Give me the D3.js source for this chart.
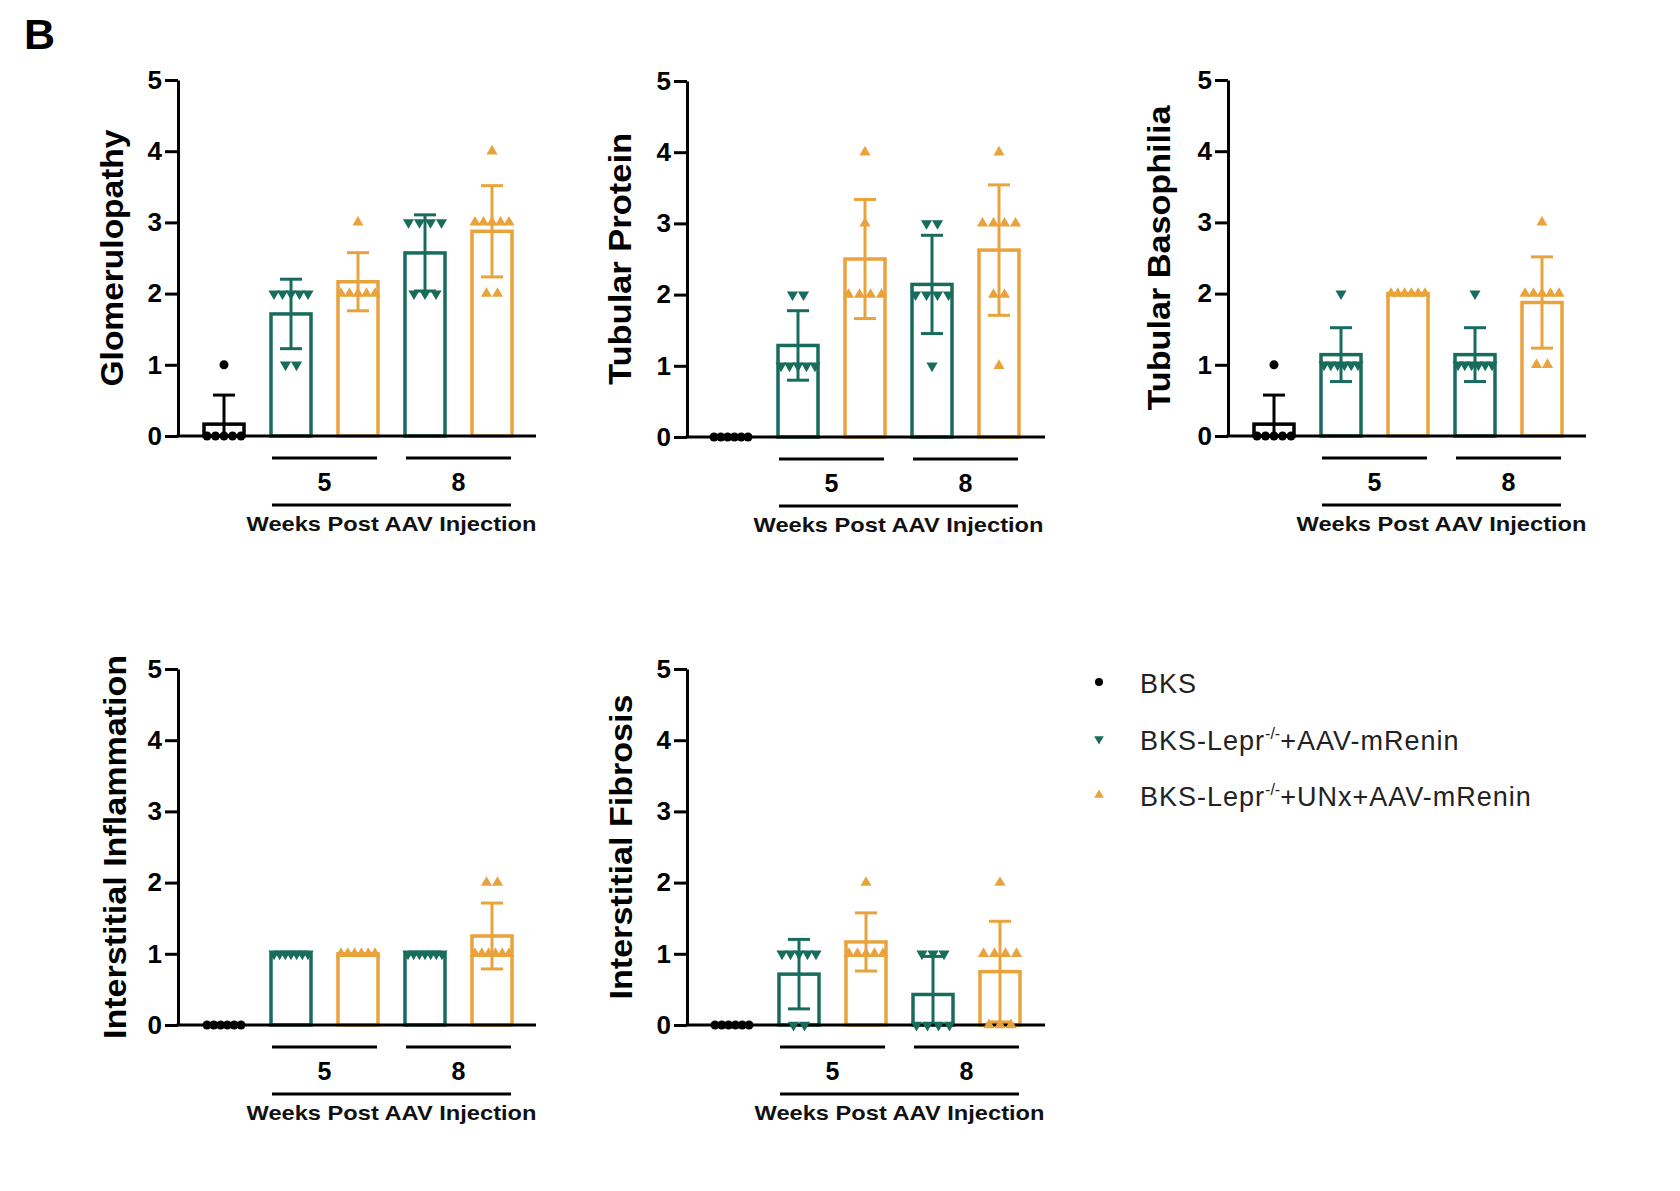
<!DOCTYPE html>
<html lang="en">
<head>
<meta charset="UTF-8"/>
<title>histology scores</title>
<script src="https://d3js.org/d3.v7.min.js"></script>
<style>
  body { margin: 0; background: #fff; }
  text { font-family: "Liberation Sans", Arial, sans-serif; }
  .axis path, .axis line { stroke: #000; stroke-width: 3px; }
  .axis text { font-size: 26px; font-weight: bold; fill: #000; }
</style>
</head>
<body>
<div id="chart"></div>
<script>

// groups on the x axis (BKS, then 5 wk and 8 wk pairs)
var groups = ["BKS", "Lepr_5", "UNx_5", "Lepr_8", "UNx_8"]
var weekLabels = ["5", "8"]
var yTicks = [0, 1, 2, 3, 4, 5]
var panelTitles = ["Glomerulopathy", "Tubular Protein", "Tubular Basophilia", "Interstitial Inflammation", "Interstitial Fibrosis"]

// individual animal scores
var glomerulopathy = [[0,0,0,0,0,1], [2,2,2,2,2,1,1], [2,2,2,2,2,3], [3,3,3,3,2,2,2], [3,3,3,3,3,2,2,4]]
var tubularProtein = [[0,0,0,0,0,0], [2,2,1,1,1,1,1], [4,3,2,2,2,2], [3,3,2,2,2,2,1], [4,3,3,3,3,2,2,1]]
var tubularBasophilia = [[0,0,0,0,0,1], [2,1,1,1,1,1,1], [2,2,2,2,2,2], [2,1,1,1,1,1,1], [3,2,2,2,2,2,1,1]]
var interstitialInflammation = [[0,0,0,0,0,0], [1,1,1,1,1,1,1], [1,1,1,1,1,1], [1,1,1,1,1,1,1], [2,2,1,1,1,1,1,1]]
var interstitialFibrosis = [[0,0,0,0,0,0], [1,1,1,1,1,0,0], [2,1,1,1,1,1], [1,1,1,0,0,0,0], [2,1,1,1,1,0,0,0]]
var panelData = [glomerulopathy, tubularProtein, tubularBasophilia, interstitialInflammation, interstitialFibrosis]

var legendLabels = [["BKS", "", ""], ["BKS-Lepr", "-/-", "+AAV-mRenin"], ["BKS-Lepr", "-/-", "+UNx+AAV-mRenin"]]

// where each panel sits on the page
var layout = [
  {x: 178, top: 80, first: 46, titleX: 123, titleLen: 257},
  {x: 687, top: 81, first: 44, titleX: 631, titleLen: 252},
  {x: 1228, top: 80, first: 46, titleX: 1170, titleLen: 305},
  {x: 178, top: 669, first: 46, titleX: 126, titleLen: 384},
  {x: 687, top: 669, first: 45, titleX: 632, titleLen: 305}
]

var width = 1680
    height = 1191
    plotH = 356
    step = 67

var teal = "#186c5c"
    orange = "#e9a33c"

var svg = d3.select("#chart")
  .append("svg")
    .attr("width", width)
    .attr("height", height)

var color = d3.scaleOrdinal().domain(groups).range(["#000", teal, orange, teal, orange])
// 0 = circle, 1 = triangle down, 2 = triangle up
var shapeKind = d3.scaleOrdinal().domain(groups).range([0, 1, 2, 1, 2])

function marker(sel, kind, fill, size) {
  sel.attr("d", d3.symbol().type(kind == 0 ? d3.symbolCircle : d3.symbolTriangle).size(size))
    .attr("fill", fill)
}

svg.append("text").attr("x", 24).attr("y", 49).text("B")
  .style("font-size", "43px").style("font-weight", "bold")

layout.forEach(function(p, k) {
  var scores = panelData[k]
  var g = svg.append("g").attr("transform", "translate(" + p.x + ",0)")

  var y = d3.scaleLinear().domain([0, 5]).range([p.top + plotH, p.top])
  var x = d3.scalePoint().domain(groups).range([p.first, p.first + 4 * step])
  var y0 = y(0)

  var stats = scores.map(function(v, i) {
    return {key: groups[i], values: v, mean: d3.mean(v), sd: d3.deviation(v)}
  })

  // bars (open)
  g.selectAll("rect.bar")
    .data(stats.filter(function(d) { return d.mean > 0 }))
    .enter()
    .append("rect")
      .attr("x", function(d) { return x(d.key) - 20 })
      .attr("width", 40)
      .attr("y", function(d) { return y(d.mean) })
      .attr("height", function(d) { return y0 - y(d.mean) })
      .attr("fill", "none")
      .attr("stroke", function(d) { return color(d.key) })
      .attr("stroke-width", 3.5)

  // mean +/- SD
  stats.forEach(function(d) {
    if (!(d.sd > 0)) return
    var hi = d.mean + d.sd
    var lo = d.mean - d.sd
    var cx = x(d.key)
    g.append("line").attr("x1", cx).attr("x2", cx)
      .attr("y1", y(Math.max(lo, 0))).attr("y2", y(hi))
      .attr("stroke", color(d.key)).attr("stroke-width", 3)
    g.append("line").attr("x1", cx - 11).attr("x2", cx + 11)
      .attr("y1", y(hi)).attr("y2", y(hi))
      .attr("stroke", color(d.key)).attr("stroke-width", 3)
    if (lo >= 0) {
      g.append("line").attr("x1", cx - 11).attr("x2", cx + 11)
        .attr("y1", y(lo)).attr("y2", y(lo))
        .attr("stroke", color(d.key)).attr("stroke-width", 3)
    }
  })

  // x axis line
  g.append("line").attr("x1", -1.5).attr("x2", 358).attr("y1", y0).attr("y2", y0)
    .attr("stroke", "#000").attr("stroke-width", 3)

  // y axis
  g.append("g")
    .attr("class", "axis")
    .call(d3.axisLeft(y).tickValues(yTicks).tickFormat(d3.format("d"))
      .tickSize(13).tickPadding(3).tickSizeOuter(0))

  // scatter of the single scores, spread sideways when equal
  stats.forEach(function(d) {
    var byValue = d3.group(d.values, function(v) { return v })
    byValue.forEach(function(vals, v) {
      var n = vals.length
      var gap = n > 1 ? Math.min(11, 34 / (n - 1)) : 0
      vals.forEach(function(_, i) {
        var px = x(d.key) + (i - (n - 1) / 2) * gap
        var kind = shapeKind(d.key)
        g.append("path")
          .attr("transform", "translate(" + px + "," + y(v) + ")" + (kind == 1 ? " rotate(180)" : ""))
          .call(marker, kind, color(d.key), kind == 0 ? 64 : 54)
      })
    })
  })

  // week brackets
  var pairs = [[groups[1], groups[2]], [groups[3], groups[4]]]
  pairs.forEach(function(pr, i) {
    g.append("line").attr("x1", x(pr[0]) - 19).attr("x2", x(pr[1]) + 19)
      .attr("y1", y0 + 22).attr("y2", y0 + 22)
      .attr("stroke", "#000").attr("stroke-width", 3)
    g.append("text")
      .attr("x", (x(pr[0]) + x(pr[1])) / 2).attr("y", y0 + 55)
      .attr("text-anchor", "middle")
      .style("font-size", "25px").style("font-weight", "bold")
      .text(weekLabels[i])
  })
  g.append("line").attr("x1", x(groups[1]) - 19).attr("x2", x(groups[4]) + 19)
    .attr("y1", y0 + 69).attr("y2", y0 + 69)
    .attr("stroke", "#000").attr("stroke-width", 3)
  g.append("text")
    .attr("x", (x(groups[1]) + x(groups[4])) / 2).attr("y", y0 + 95)
    .attr("text-anchor", "middle")
    .attr("textLength", 290).attr("lengthAdjust", "spacingAndGlyphs")
    .style("font-size", "21px").style("font-weight", "bold").style("fill", "#111")
    .text("Weeks Post AAV Injection")

  // y title
  g.append("text")
    .attr("transform", "translate(" + (p.titleX - p.x) + "," + ((y0 + y(5)) / 2) + ") rotate(-90)")
    .attr("text-anchor", "middle")
    .attr("textLength", p.titleLen).attr("lengthAdjust", "spacingAndGlyphs")
    .style("font-size", "31px").style("font-weight", "bold")
    .text(panelTitles[k])
})

// legend
var leg = svg.append("g").attr("transform", "translate(1099,0)")
var rowY = [682, 739, 795]
legendLabels.forEach(function(lab, i) {
  var kind = i
  leg.append("path")
    .attr("transform", "translate(0," + rowY[i] + ")" + (kind == 1 ? " rotate(180)" : ""))
    .call(marker, kind, color(groups[i]), kind == 0 ? 50 : 40)
  var t = leg.append("text")
    .attr("x", 41).attr("y", rowY[i] + 11)
    .style("font-size", "27px").style("letter-spacing", "1px").style("fill", "#222")
  t.append("tspan").text(lab[0])
  if (lab[1]) {
    t.append("tspan").attr("dy", -11).style("font-size", "16px").style("letter-spacing", "0px").text(lab[1])
    t.append("tspan").attr("dy", 11).text(lab[2])
  }
})

</script>
</body>
</html>
